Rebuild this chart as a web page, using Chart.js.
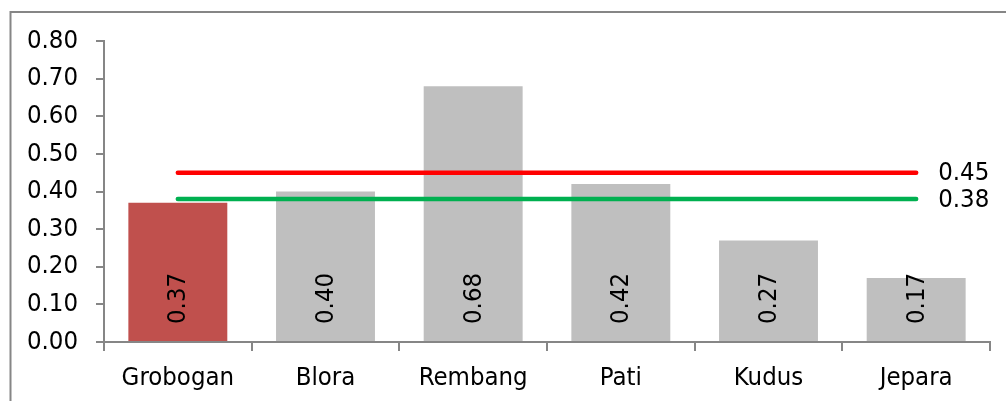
<!DOCTYPE html>
<html>
<head>
<meta charset="utf-8">
<script src="https://cdn.jsdelivr.net/npm/chart.js@4.4.1/dist/chart.umd.min.js"></script>
<style>
  html, body { margin: 0; padding: 0; background: #ffffff; }
  #wrap { position: relative; width: 1006px; height: 401px; }
  canvas { display: block; }
</style>
</head>
<body>
<div id="wrap"><canvas id="c" width="1006" height="401"></canvas></div>
<script>
const categories = ["Grobogan", "Blora", "Rembang", "Pati", "Kudus", "Jepara"];
const barValues = [0.37, 0.40, 0.68, 0.42, 0.27, 0.17];
const redLineValue = 0.45;
const greenLineValue = 0.38;
const yTicks = [0.00, 0.10, 0.20, 0.30, 0.40, 0.50, 0.60, 0.70, 0.80];

const FONT = '"DejaVu Sans Condensed", "DejaVu Sans", sans-serif';
const FSIZE = 25.5;
const AXIS = '#868686';

const barColors = categories.map((c, i) => i === 0 ? '#C0504D' : '#BFBFBF');

const framePlugin = {
  id: 'frame',
  beforeDraw(chart) {
    const ctx = chart.ctx;
    ctx.save();
    ctx.strokeStyle = AXIS;
    ctx.lineWidth = 2;
    ctx.strokeRect(10.5, 12, 1010, 410);
    ctx.restore();
  }
};

const labelsPlugin = {
  id: 'valueLabels',
  afterDatasetsDraw(chart) {
    const ctx = chart.ctx;
    ctx.save();
    ctx.fillStyle = '#000000';
    ctx.font = FSIZE + 'px ' + FONT;
    const barMeta = chart.getDatasetMeta(0);
    barMeta.data.forEach((el, i) => {
      ctx.save();
      ctx.translate(el.x, el.base - 17);
      ctx.rotate(-Math.PI / 2);
      ctx.textAlign = 'left';
      ctx.textBaseline = 'middle';
      ctx.fillText(barValues[i].toFixed(2), 0, 1);
      ctx.restore();
    });
    [1, 2].forEach(di => {
      const meta = chart.getDatasetMeta(di);
      const last = meta.data[meta.data.length - 1];
      const v = chart.data.datasets[di].data[meta.data.length - 1];
      ctx.textAlign = 'left';
      ctx.textBaseline = 'middle';
      ctx.fillText(v.toFixed(2), last.x + 22, last.y + 1);
    });
    ctx.restore();
  }
};

new Chart(document.getElementById('c'), {
  data: {
    labels: categories,
    datasets: [
      {
        type: 'bar',
        data: barValues,
        backgroundColor: barColors,
        borderWidth: 0,
        categoryPercentage: 1.0,
        barPercentage: 0.67,
        order: 3
      },
      {
        type: 'line',
        data: categories.map(() => redLineValue),
        borderColor: '#FF0000',
        borderWidth: 4.5,
        borderCapStyle: 'round',
        pointRadius: 0,
        fill: false,
        order: 1
      },
      {
        type: 'line',
        data: categories.map(() => greenLineValue),
        borderColor: '#00B050',
        borderWidth: 4.5,
        borderCapStyle: 'round',
        pointRadius: 0,
        fill: false,
        order: 2
      }
    ]
  },
  options: {
    responsive: false,
    animation: false,
    devicePixelRatio: 1,
    layout: { padding: { left: 0, right: 16, top: 41, bottom: 0 } },
    plugins: { legend: { display: false }, tooltip: { enabled: false } },
    scales: {
      x: {
        offset: true,
        grid: { display: true, drawOnChartArea: false, offset: true, tickLength: 9, color: AXIS, lineWidth: 2 },
        border: { display: true, color: AXIS, width: 2 },
        ticks: { color: '#000000', font: { family: FONT, size: FSIZE }, padding: 12, maxRotation: 0, autoSkip: false },
        afterFit(s) { s.height = 59; }
      },
      y: {
        min: 0,
        max: 0.8,
        afterBuildTicks(s) { s.ticks = yTicks.map(v => ({ value: v })); },
        grid: { display: true, drawOnChartArea: false, tickLength: 8, color: AXIS, lineWidth: 2 },
        border: { display: true, color: AXIS, width: 2 },
        ticks: { color: '#000000', font: { family: FONT, size: FSIZE }, padding: 18, callback: v => Number(v).toFixed(2) },
        afterFit(s) { s.width = 104; }
      }
    }
  },
  plugins: [framePlugin, labelsPlugin]
});
</script>
</body>
</html>
